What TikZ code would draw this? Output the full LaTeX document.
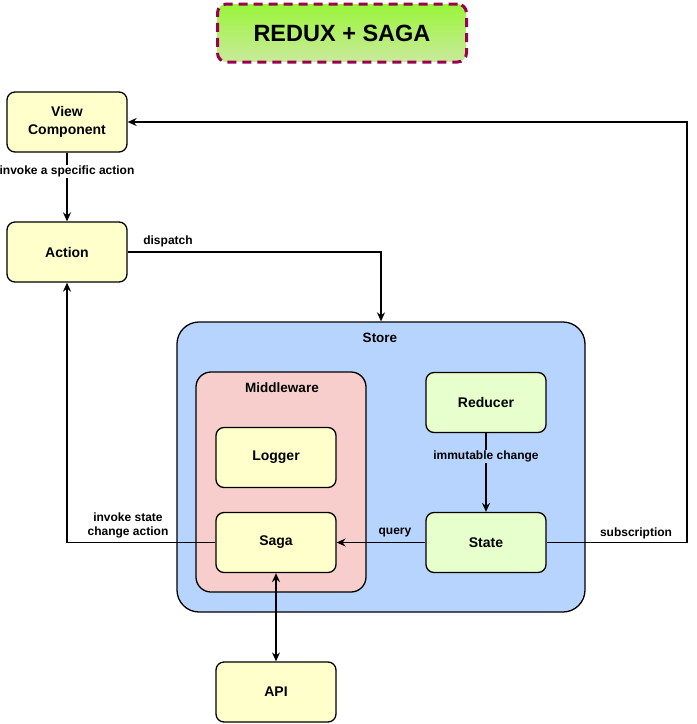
\documentclass[tikz,border=0pt]{standalone}
\usepackage{fontspec}
\setmainfont{Liberation Sans}
\usetikzlibrary{arrows.meta}

\definecolor{boxyellow}{HTML}{FFFFCC}
\definecolor{boxgreen}{HTML}{E6FFCC}
\definecolor{storeblue}{HTML}{B7D4FF}
\definecolor{midpink}{HTML}{F8CECC}
\definecolor{titleborder}{HTML}{99004D}
\definecolor{titletop}{HTML}{99F53A}
\definecolor{titlebottom}{HTML}{CAEA9C}

\begin{document}
\begin{tikzpicture}[x=1pt,y=-1pt,
  box/.style={draw, line width=1.3pt, rounded corners=8pt, minimum width=120pt, minimum height=60pt, align=center, font=\bfseries\fontsize{14}{17.5}\selectfont},
  frame/.style={draw, line width=1.3pt, inner sep=0pt},
  lbl/.style={font=\bfseries\fontsize{12}{14}\selectfont, inner sep=1pt, align=center},
  arr/.style={line width=1.3pt, -{Stealth[length=9pt,width=8pt,inset=3pt]}}]

\useasboundingbox (0,0) rectangle (697,724);

% Title
\node[draw=titleborder, line width=3pt, dash pattern=on 9pt off 6pt, rounded corners=9pt, top color=titletop, bottom color=titlebottom, minimum width=249pt, minimum height=58pt, font=\bfseries\fontsize{23.5}{28}\selectfont] (title) at (342,33) {REDUX + SAGA};

% Containers
\node[frame, fill=storeblue, rounded corners=22pt, minimum width=408pt, minimum height=290pt] (store) at (381,467) {};
\node[lbl, font=\bfseries\fontsize{13.5}{15}\selectfont] (storename) at (380,338) {Store};
\node[frame, fill=midpink, rounded corners=15pt, minimum width=170pt, minimum height=220pt] (middleware) at (281,482) {};
\node[lbl, font=\bfseries\fontsize{13.5}{15}\selectfont] (midname) at (282,388) {Middleware};

% Boxes
\node[box, fill=boxyellow] (view) at (67,122) {View\\Component};
\node[box, fill=boxyellow] (action) at (67,252) {Action};
\node[box, fill=boxyellow] (logger) at (276,457.5) {Logger};
\node[box, fill=boxyellow] (saga) at (276,542.5) {Saga};
\node[box, fill=boxgreen] (reducer) at (486,402.5) {Reducer};
\node[box, fill=boxgreen] (state) at (486,542.5) {State};
\node[box, fill=boxyellow] (api) at (276,692) {API};

% Connectors
\coordinate (subturn) at (687,542.5);
\draw[arr] (view) -- (action) node[lbl, fill=white, pos=0.27] {invoke a specific action};
\draw[arr] (action.east) -| (store.north);
\draw[arr] (reducer) -- (state) node[lbl, fill=storeblue, pos=0.3] {immutable change};
\draw[arr] (state) -- (saga);
\draw[arr] (state.east) -- (subturn) |- (view.east);
\draw[arr] (saga.west) -| (action.south);
\draw[line width=1.3pt, {Stealth[length=9pt,width=8pt,inset=3pt]}-{Stealth[length=9pt,width=8pt,inset=3pt]}] (saga) -- (api);

% Labels
\node[lbl] (dispatchlbl) at (168,241) {dispatch};
\node[lbl] (querylbl) at (395,533) {query};
\node[lbl] (sublbl) at (636,533) {subscription};
\node[lbl] (invokelbl) at (128,525) {invoke state\\change action};

\end{tikzpicture}
\end{document}
